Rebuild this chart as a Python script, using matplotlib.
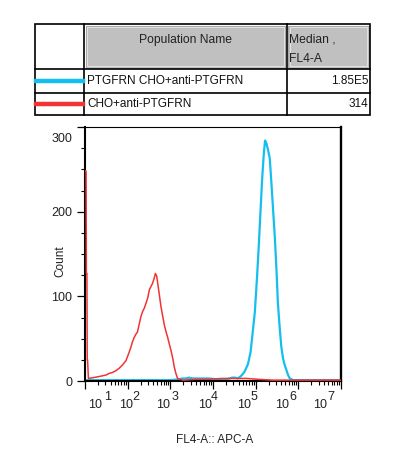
import numpy as np
import matplotlib
matplotlib.use("Agg")
import matplotlib.pyplot as plt
from matplotlib.patches import Rectangle
from matplotlib.lines import Line2D
from matplotlib.ticker import LogLocator, MultipleLocator, NullFormatter
from matplotlib.transforms import ScaledTranslation

plt.rcParams['font.family'] = ['Liberation Sans', 'DejaVu Sans']

# populations shown in the table
pop_names = ["PTGFRN CHO+anti-PTGFRN", "CHO+anti-PTGFRN"]
pop_medians = ["1.85E5", "314"]
pop_colors = ["#14bff0", "#f03434"]

# histogram values (x in decades of FL4-A, y = count)
blue_dec = [1.00, 1.50, 2.00, 2.50, 3.00, 3.20, 3.28, 3.36, 3.44, 3.52, 3.70, 3.90,
            4.10, 4.30, 4.39, 4.45, 4.52, 4.58, 4.66, 4.74, 4.82, 4.88, 4.94, 4.98,
            5.03, 5.07, 5.11, 5.15, 5.19, 5.22, 5.25, 5.29, 5.33, 5.37, 5.41, 5.45,
            5.49, 5.52, 5.56, 5.60, 5.64, 5.68, 5.72, 5.76, 5.80, 5.88, 6.20, 6.60, 7.00]
blue_cnt = [1, 1, 1, 1, 1, 2, 3, 3, 4, 3, 3, 3,
            2, 2, 3, 4, 4, 3, 6, 11, 20, 34, 62, 81,
            121, 157, 197, 237, 268, 284, 281, 273, 263, 233, 201, 169,
            129, 93, 65, 41, 27, 19, 13, 7, 3, 1, 1, 1, 1]

red_dec = [1.015, 1.025, 1.032, 1.045, 1.052, 1.06, 1.08, 1.20, 1.30, 1.40, 1.49, 1.57,
           1.64, 1.72, 1.80, 1.88, 1.96, 2.02, 2.07, 2.11, 2.15, 2.19, 2.23, 2.27,
           2.31, 2.35, 2.39, 2.43, 2.47, 2.51, 2.55, 2.58, 2.62, 2.65, 2.68, 2.72,
           2.75, 2.78, 2.82, 2.86, 2.90, 2.94, 2.98, 3.02, 3.06, 3.09, 3.13, 3.17,
           3.22, 3.30, 3.60, 3.90, 4.20, 4.50, 4.80, 5.05, 5.40, 6.00, 6.50, 7.00]
red_cnt = [248, 248, 127, 127, 25, 25, 3, 4, 5, 6, 7, 9,
           10, 12, 15, 19, 24, 32, 39, 46, 51, 55, 58, 67,
           76, 82, 86, 92, 98, 108, 112, 115, 121, 127, 124, 110,
           99, 88, 77, 66, 58, 51, 43, 35, 26, 17, 9, 3,
           2, 1, 2, 2, 3, 3, 3, 2, 1, 1, 1, 1]

x_exps = [1, 2, 3, 4, 5, 6, 7]

W, H = 402, 473
fig = plt.figure(figsize=(W / 100, H / 100), dpi=100)

# ---- histogram axes ----
ax = fig.add_axes([85 / W, 1 - 381 / H, 256 / W, 254 / H])
ax.plot(np.power(10.0, blue_dec), blue_cnt, color=pop_colors[0], lw=1.6, zorder=2)
ax.plot(np.power(10.0, red_dec), red_cnt, color=pop_colors[1], lw=1.1, zorder=3)
ax.set_xscale('log')
ax.set_xlim(10, 1e7)
ax.set_ylim(0, 300)

for side, lw in [('left', 1.5), ('bottom', 1.5), ('top', 0.8), ('right', 1.7)]:
    ax.spines[side].set_linewidth(lw)

ax.xaxis.set_major_locator(LogLocator(base=10, numticks=20))
ax.xaxis.set_minor_locator(LogLocator(base=10, subs=np.arange(2, 10), numticks=20))
ax.xaxis.set_major_formatter(NullFormatter())
ax.xaxis.set_minor_formatter(NullFormatter())
ax.set_yticks([0, 100, 200, 300])
ax.yaxis.set_minor_locator(MultipleLocator(25))
ax.tick_params(axis='both', which='major', length=5.5, width=0.9, direction='out')
ax.tick_params(axis='both', which='minor', length=2.6, width=0.8, direction='out')
ax.tick_params(axis='y', labelsize=9, pad=3.5, labelcolor='#222222')
ax.tick_params(top=False, right=False, which='both')

for lab in ax.get_yticklabels():
    if lab.get_text() == '300':
        lab.set_transform(lab.get_transform() + ScaledTranslation(0, -0.1, fig.dpi_scale_trans))

# FlowJo-style decade labels: "10" with a full-size exponent beside it
base_dx = [10, -2, -7, -8, -12, -16.5, -21]
exp_dx = [22.5, 8, 4.5, 1, -1.5, -5, -10.5]
xform = ax.get_xaxis_transform()
for e, bdx, edx in zip(x_exps, base_dx, exp_dx):
    ax.annotate("10", xy=(10.0 ** e, 0), xycoords=xform, xytext=(bdx, -24),
                textcoords='offset pixels', ha='center', va='center',
                fontsize=9, color='#222222', annotation_clip=False)
    ax.annotate(str(e), xy=(10.0 ** e, 0), xycoords=xform, xytext=(edx, -16),
                textcoords='offset pixels', ha='center', va='center',
                fontsize=9, color='#222222', annotation_clip=False)

fig.text(60 / W, 1 - 261 / H, "Count", rotation=90, ha='center', va='center',
         fontsize=8.5, color='#222222')
fig.text(215 / W, 1 - 440 / H, "FL4-A:: APC-A", ha='center', va='center',
         fontsize=8.5, color='#222222')

# ---- population table ----
tb = fig.add_axes([0, 0, 1, 1], zorder=5)
tb.set_xlim(0, W)
tb.set_ylim(H, 0)
tb.axis('off')
tb.patch.set_alpha(0)

col_x = [35.5, 84.5, 287, 370.5]
row_y = [24.5, 69.5, 93, 115.5]

for x0, x1 in [(col_x[1], col_x[2]), (col_x[2], col_x[3])]:
    tb.add_patch(Rectangle((x0 + 1.5, row_y[0] + 1.5), x1 - x0 - 3, row_y[1] - row_y[0] - 3,
                           facecolor='#c0c0c0', edgecolor='#a8a8a8', lw=0.8))
    tb.add_patch(Rectangle((x0 + 3, row_y[0] + 3), x1 - x0 - 6, row_y[1] - row_y[0] - 6,
                           facecolor='none', edgecolor='#e8e8e8', lw=0.6))

tb.add_patch(Rectangle((col_x[0], row_y[0]), col_x[3] - col_x[0], row_y[3] - row_y[0],
                       facecolor='none', edgecolor='black', lw=1.2))
for yy in row_y[1:3]:
    tb.add_line(Line2D([col_x[0], col_x[3]], [yy, yy], color='black', lw=1.2))
for xx in col_x[1:3]:
    tb.add_line(Line2D([xx, xx], [row_y[0], row_y[3]], color='black', lw=1.2))

tb.text((col_x[1] + col_x[2]) / 2, 40, "Population Name", ha='center', va='center',
        fontsize=8.7, color='#222222')
tb.text(col_x[2] + 2, 40, "Median ,", ha='left', va='center', fontsize=8.7, color='#222222')
tb.text(col_x[2] + 2, 58.5, "FL4-A", ha='left', va='center', fontsize=8.7, color='#222222')

for i, (name, med, c) in enumerate(zip(pop_names, pop_medians, pop_colors)):
    yc = (row_y[i + 1] + row_y[i + 2]) / 2
    tb.add_line(Line2D([col_x[0] + 1, col_x[1] - 1], [yc - 0.5, yc - 0.5], color=c, lw=3.2))
    tb.text(col_x[1] + 2.5, yc, name, ha='left', va='center', fontsize=8.5, color='#111111')
    tb.text(col_x[3] - 2, yc, med, ha='right', va='center', fontsize=8.5, color='#111111')

fig.savefig("out.png", dpi=100)
